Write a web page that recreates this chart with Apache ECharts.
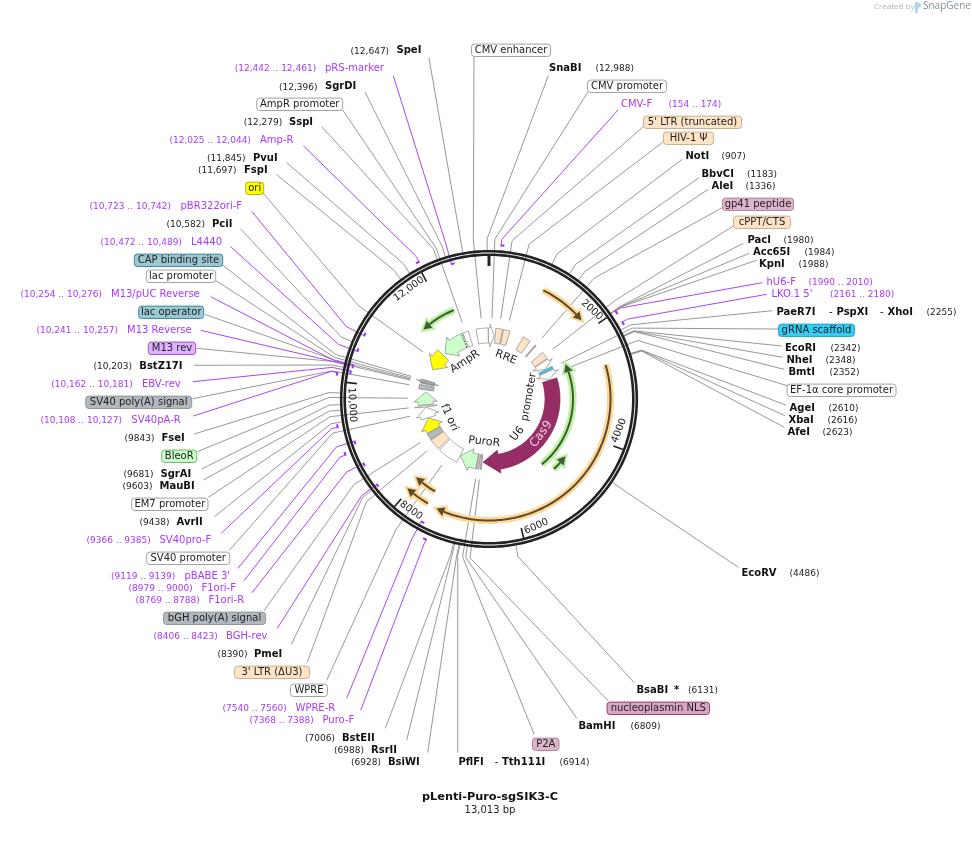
<!DOCTYPE html>
<html lang="en">
<head>
<meta charset="utf-8">
<title>pLenti-Puro-sgSIK3-C</title>
<script src="https://cdn.jsdelivr.net/npm/echarts@6/dist/echarts.min.js"></script>
<style>
  html, body { margin: 0; padding: 0; background: #fff; }
  #main { width: 972px; height: 846px; }
</style>
</head>
<body>
<div id="main"></div>
<script type="text/javascript">
var plasmidName = 'pLenti-Puro-sgSIK3-C';
var plasmidLength = 13013;
var tickValues = [0, 2000, 4000, 6000, 8000, 10000, 12000];
var tickLabels = ['', '2000', '4000', '6000', '8000', '10,000', '12,000'];

// name, cut site
var enzymes = [
  ['SpeI', 12647], ['SgrDI', 12396], ['SspI', 12279], ['PvuI', 11845], ['FspI', 11697],
  ['PciI', 10582], ['BstZ17I', 10203], ['FseI', 9843], ['SgrAI', 9681], ['MauBI', 9603],
  ['AvrII', 9438], ['PmeI', 8390], ['BstEII', 7006], ['RsrII', 6988], ['BsiWI', 6928],
  ['PflFI', 6914], ['BamHI', 6809], ['BsaBI', 6131], ['EcoRV', 4486], ['SnaBI', 12988],
  ['NotI', 907], ['BbvCI', 1183], ['AleI', 1336], ['PacI', 1980], ['Acc65I', 1984],
  ['KpnI', 1988], ['PaeR7I', 2255], ['EcoRI', 2342], ['NheI', 2348], ['BmtI', 2352],
  ['AgeI', 2610], ['XbaI', 2616], ['AfeI', 2623]
];

// name, start, end, direction
var primers = [
  ['pRS-marker', 12442, 12461, 1], ['Amp-R', 12025, 12044, -1], ['pBR322ori-F', 10723, 10742, 1],
  ['L4440', 10472, 10489, 1], ['M13/pUC Reverse', 10254, 10276, -1], ['M13 Reverse', 10241, 10257, -1],
  ['EBV-rev', 10162, 10181, -1], ['SV40pA-R', 10108, 10127, -1], ['SV40pro-F', 9366, 9385, 1],
  ['pBABE 3\'', 9119, 9139, -1], ['F1ori-F', 8979, 9000, 1], ['F1ori-R', 8769, 8788, -1],
  ['BGH-rev', 8406, 8423, -1], ['WPRE-R', 7540, 7560, -1], ['Puro-F', 7368, 7388, 1],
  ['CMV-F', 154, 174, 1], ['hU6-F', 1990, 2010, 1], ['LKO.1 5\'', 2161, 2180, 1]
];

// name, start, end, direction, kind
var features = [
  ['CMV enhancer', 12630, 12990, 0, 'white'],
  ['CMV promoter', 12995, 13183, 1, 'white'],
  ['5\' LTR (truncated)', 200, 400, 0, 'ltr'],
  ['HIV-1 \u03a8', 425, 625, 0, 'ltr'],
  ['RRE', 1045, 1280, 0, 'ltr'],
  ['gp41 peptide', 1460, 1505, 0, 'pink'],
  ['cPPT/CTS', 1770, 1990, 0, 'ltr'],
  ['U6 promoter', 2015, 2255, 1, 'white'],
  ['gRNA scaffold', 2260, 2345, 0, 'cyan'],
  ['EF-1\u03b1 core promoter', 2355, 2600, 1, 'white'],
  ['Cas9', 2630, 6700, 1, 'cas9'],
  ['nucleoplasmin NLS', 6735, 6770, 0, 'nls'],
  ['P2A', 6810, 6890, 0, 'pink'],
  ['PuroR', 6895, 7470, 1, 'green'],
  ['WPRE', 7480, 8100, 0, 'white'],
  ['3\' LTR (\u0394U3)', 8150, 8480, 0, 'ltr'],
  ['bGH poly(A) signal', 8490, 8690, 0, 'gray'],
  ['f1 ori', 8710, 9130, 1, 'yellow'],
  ['SV40 promoter', 9140, 9490, 1, 'white'],
  ['EM7 promoter', 9500, 9560, 1, 'white'],
  ['BleoR', 9570, 9990, 1, 'green'],
  ['SV40 poly(A) signal', 10056, 10195, 0, 'gray'],
  ['M13 rev', 10241, 10257, 0, 'purple'],
  ['lac operator', 10265, 10281, 0, 'teal'],
  ['lac promoter', 10289, 10320, 1, 'white'],
  ['CAP binding site', 10334, 10356, 0, 'teal'],
  ['ori', 10750, 11340, -1, 'yellow'],
  ['AmpR', 11420, 12225, -1, 'green'],
  ['AmpR promoter', 12230, 12400, 0, 'white']
];

// open reading frames: from, to, kind
var orfs = [
  [958, 1793, 'orange'], [2664, 7432, 'orange'], [7600, 8060, 'orange'], [7600, 8040, 'orange'],
  [12236, 11447, 'green'], [5100, 2368, 'green'], [4960, 4587, 'green']
];

// ---------- layout, all in page pixels ----------
var cx = 489, cy = 399;
var ELBOW_R = 160, ENZYME_R = 149, FEATURE_R = 81;
var BAND_IN = 56, BAND_OUT = 71;
var orfRadius = [121.5, 121.5, 107, 121, 95.5, 84, 95.5];

// nameX, y, posX, anchorX, anchorY
var enzymeLayout = {
  SpeI: [396.5, 50.7, 350.6, 429, 58], SgrDI: [325, 86.7, 279, 365, 92], SspI: [289, 122.3, 243.7, 322, 127],
  PvuI: [253, 158.3, 207, 286.7, 162.7], FspI: [244, 170.3, 198, 276.7, 174.7], PciI: [212, 224.3, 166.5, 240.7, 229],
  BstZ17I: [139.3, 366.3, 93.5, 194, 365.3], FseI: [161.5, 438.3, 124.5, 194.3, 434], SgrAI: [160.5, 474.5, 123.5, 201.7, 469],
  MauBI: [159.5, 486.5, 122.5, 203.3, 480], AvrII: [176.5, 522.3, 139.5, 214.3, 516.7], PmeI: [254, 654.3, 217.5, 291.3, 644.3],
  BstEII: [342, 738.3, 305, 385.3, 728.3], RsrII: [371, 750.3, 334, 406.7, 740.3], BsiWI: [388, 762.3, 351, 427.7, 752.7],
  PflFI: [458.5, 762.3, 559.5, 457.7, 752.7], BamHI: [578.5, 726.3, 630.5, 576.7, 718.3], BsaBI: [636.5, 690.3, 688, 634.3, 682.7],
  EcoRV: [741.5, 573.3, 789.5, 738.3, 567.3], SnaBI: [549, 68.3, 595.5, 548.3, 75.7], NotI: [685.5, 156.3, 721.5, 682.3, 159.3],
  BbvCI: [701.5, 174.3, 747, 699, 177.7], AleI: [711.5, 186.3, 745.5, 708.3, 189.3], PacI: [747.5, 240.3, 783.5, 743.3, 243.3],
  Acc65I: [753, 252.3, 804.5, 749.3, 253.3], KpnI: [759, 264.3, 798.5, 757.3, 260], PaeR7I: [776.5, 312.3, 926.5, 772.3, 310.7],
  EcoRI: [785, 348.3, 830.5, 781.7, 346], NheI: [786.5, 360.3, 825.5, 782.7, 357.3], BmtI: [788.5, 372.3, 829.5, 784, 369.3],
  AgeI: [789.5, 408.3, 828.5, 785.7, 405], XbaI: [788.5, 420.3, 827.5, 785, 415.7], AfeI: [787.5, 432.3, 822.5, 784.3, 427.3]
};
// isoschizomers and marks printed on the same row: text, x, bold
var enzymeExtras = {
  PflFI: [['-', 494.7, false], ['Tth111I', 502, true]],
  BsaBI: [['*', 674, true]],
  PaeR7I: [['-', 829, false], ['PspXI', 836.5, true], ['-', 880, false], ['XhoI', 887.5, true]]
};

// nameX, y, posX, anchorX, anchorY, mark radius
var primerLayout = {
  'pRS-marker': [325, 68.3, 234.7, 393.3, 75.7, 140], 'Amp-R': [260, 140.3, 169.5, 303.3, 145.7, 154],
  'pBR322ori-F': [180.5, 206.3, 89.5, 251.7, 211.3, 140], 'L4440': [191, 242.3, 100.5, 230.7, 246.7, 140],
  'M13/pUC Reverse': [111, 294.3, 20.5, 210.7, 296.7, 140], 'M13 Reverse': [127, 330.3, 36.5, 200.7, 330.3, 147],
  'EBV-rev': [142, 384.3, 51.3, 192.7, 381.7, 141], 'SV40pA-R': [131.3, 420.3, 40.5, 193.3, 416, 154],
  'SV40pro-F': [159.5, 540.3, 86.5, 221.3, 533.3, 154], 'pBABE 3\'': [184.5, 576.3, 111, 238, 568.3, 141],
  'F1ori-F': [201.5, 588.3, 128.5, 244, 580.7, 154], 'F1ori-R': [208.5, 600.3, 135.5, 252, 592.7, 141],
  'BGH-rev': [226, 636.3, 153.5, 277.3, 628.3, 141], 'WPRE-R': [295.5, 708.3, 222.5, 346.7, 698.3, 140],
  'Puro-F': [322.5, 720.3, 249.5, 360.7, 710.3, 154], 'CMV-F': [621, 104.3, 668.5, 618.3, 109.7, 154],
  'hU6-F': [766.5, 282.3, 808.5, 762.3, 282.7, 154], 'LKO.1 5\'': [771.5, 294.3, 830, 766.7, 294.3, 154]
};

// x0, x1, y, anchorX, anchorY
var pillLayout = {
  'CMV enhancer': [471.5, 550.5, 50.3, 474, 56.7], 'CMV promoter': [587.5, 666.5, 86.3, 587.7, 92.3],
  '5\' LTR (truncated)': [643.5, 741.5, 122.3, 643.3, 126.7], 'HIV-1 \u03a8': [663.5, 713.5, 138.3, 663.3, 141.7],
  'gp41 peptide': [722.5, 793.5, 204.3, 722.3, 207.7], 'cPPT/CTS': [733.5, 790.5, 222.3, 733.3, 226],
  'gRNA scaffold': [778.5, 854.5, 330.3, 778.3, 329], 'EF-1\u03b1 core promoter': [787, 896, 390.3, 788.3, 386],
  'nucleoplasmin NLS': [607, 709.5, 708.3, 608.3, 701], 'P2A': [532.5, 559, 744.3, 534.3, 734.7],
  'WPRE': [290.5, 327.5, 690.3, 326.7, 680.3], '3\' LTR (\u0394U3)': [234.5, 309.5, 672.3, 307.3, 662.3],
  'bGH poly(A) signal': [163.5, 265.5, 618.3, 264, 610.7], 'SV40 promoter': [146.7, 229.7, 558.3, 229, 550.7],
  'EM7 promoter': [131.7, 208, 504.3, 208.3, 497.3], 'BleoR': [161.7, 196.7, 456.3, 197.3, 451.7],
  'SV40 poly(A) signal': [85.7, 191.7, 402.3, 192.7, 398.7], 'M13 rev': [148.3, 195.7, 348.3, 196.7, 348.3],
  'lac operator': [138.7, 203.7, 312.3, 204.7, 314.3], 'lac promoter': [146.3, 215.7, 276.3, 216, 280.7],
  'CAP binding site': [134.3, 222.7, 260.3, 222.7, 265], 'ori': [245.7, 263.7, 188.3, 263.3, 193.3],
  'AmpR promoter': [256.7, 342.7, 104.3, 342.7, 110]
};

var kindStyle = {
  white: ['#ffffff', '#999999'], ltr: ['#FFE3C6', '#C8A888'], green: ['#CCFFCC', '#66AA66'],
  yellow: ['#FFFF00', '#AAAA00'], gray: ['#B3B8BD', '#8A8F94'], teal: ['#9CC8D4', '#2E8299'],
  purple: ['#DDB3FF', '#A03CD8'], cyan: ['#33CCF5', '#12A5D0'], pink: ['#DDB5CA', '#B07A98'],
  nls: ['#D9A6BF', '#962D64'], cas9: ['#962D64', '#7A2450']
};
var orfStyle = { orange: ['#FFD898', '#5C4A30'], green: ['#BDF0A4', '#3C5C30'] };

// text, angle on the map in bp, radius, rotation in degrees, colour, font size
var innerLabels = [
  ['AmpR', 11825, 44.4, -33, '#222', 11], ['RRE', 802, 45, 22, '#222', 11], ['U6', 5090, 45, -50, '#222', 11],
  ['promoter', 3145, 40, -80, '#222', 10.5], ['Cas9', 4481, 63, -55, '#F7D0E2', 12], ['PuroR', 6737, 43, 6, '#222', 11],
  ['f1 ori', 8852, 43.9, 66, '#222', 11]
];
var tickLabelShift = [0, -224, -253, -231, -231, -329, -290];
var tickLabelRadius = [0, 136, 134, 136, 136, 137, 136];
var tickLabelRotation = [0, 42, -68, -24, 35, 87, -36];

var FONT = '"DejaVu Sans"';

// bp wraps round the origin
function pt(api, r, bp) {
  var a = ((bp % plasmidLength) + plasmidLength) % plasmidLength;
  return api.coord([r, a]);
}

function pxToBp(px, r) {
  return px / (2 * Math.PI * r) * plasmidLength;
}

function arc(api, r, from, to) {
  var n = Math.max(2, Math.ceil(Math.abs(to - from) / 40));
  var pts = [];
  for (var i = 0; i <= n; i++) {
    pts.push(pt(api, r, from + (to - from) * i / n));
  }
  return pts;
}

function featurePoints(api, f) {
  var start = f[1], end = f[2], dir = f[3];
  if (!dir) {
    return arc(api, BAND_OUT, start, end).concat(arc(api, BAND_IN, end, start));
  }
  var mid = (BAND_IN + BAND_OUT) / 2;
  var head = pxToBp(f[4] === 'cas9' ? 16 : 11, mid);
  var tail = dir > 0 ? start : end;
  var tip = dir > 0 ? end : start;
  if (head > (end - start) * 0.75) head = (end - start) * 0.75;
  var neck = tip - dir * head;
  return arc(api, BAND_OUT, tail, neck)
    .concat([pt(api, BAND_OUT + 4, neck), pt(api, mid, tip), pt(api, BAND_IN - 4, neck)])
    .concat(arc(api, BAND_IN, neck, tail));
}

function textEl(text, x, y, opt) {
  opt = opt || {};
  return {
    type: 'text', x: x, y: y, rotation: opt.rotation || 0, silent: true,
    style: {
      text: text,
      font: (opt.bold ? 'bold ' : '') + (opt.size || 10) + 'px ' + FONT,
      fill: opt.color || '#111',
      textAlign: opt.align || 'left',
      textVerticalAlign: 'middle'
    }
  };
}

function comma(n) {
  return n >= 10000 ? String(n).replace(/(\d{3})$/, ',$1') : String(n);
}

// leader lines: inner end at the mark, radial to the elbow, then out to the label
var leaderList = [];
enzymes.forEach(function (e) {
  var l = enzymeLayout[e[0]];
  leaderList.push({ r: ENZYME_R, bp: e[1], ax: l[3], ay: l[4], color: '#8c8c8c' });
});
features.forEach(function (f) {
  var l = pillLayout[f[0]];
  if (l) leaderList.push({ r: FEATURE_R, bp: (f[1] + f[2]) / 2, ax: l[3], ay: l[4], color: '#8c8c8c' });
});
primers.forEach(function (p) {
  var l = primerLayout[p[0]];
  leaderList.push({ r: l[5], bp: (p[1] + p[2]) / 2, ax: l[3], ay: l[4], color: '#A030F5' });
});

function renderLeader(params, api) {
  var d = leaderList[params.dataIndex];
  return {
    type: 'polyline', silent: true,
    shape: { points: [pt(api, d.r, d.bp), pt(api, ELBOW_R, d.bp), [d.ax, d.ay]] },
    style: { fill: null, stroke: d.color, lineWidth: 0.9 }
  };
}

function renderPrimerMark(params, api) {
  var p = primers[params.dataIndex];
  var r = primerLayout[p[0]][5];
  var extra = pxToBp(2.5, r) * p[3];
  return {
    type: 'polyline', silent: true,
    shape: { points: arc(api, r, p[3] > 0 ? p[1] : p[2], (p[3] > 0 ? p[2] : p[1]) + extra) },
    style: { fill: null, stroke: '#A030F5', lineWidth: 2 }
  };
}

function renderRing(params, api) {
  var r = api.value(0);
  return {
    type: 'polyline', silent: true,
    shape: { points: arc(api, r, 0, plasmidLength) },
    style: { fill: null, stroke: '#222222', lineWidth: 2.6 }
  };
}

function renderTick(params, api) {
  var i = params.dataIndex;
  var bp = tickValues[i];
  var children = [{
    type: 'line', silent: true,
    shape: { x1: pt(api, 144, bp)[0], y1: pt(api, 144, bp)[1], x2: pt(api, 133, bp)[0], y2: pt(api, 133, bp)[1] },
    style: { stroke: '#222222', lineWidth: i === 0 ? 3 : 1.6 }
  }];
  if (tickLabels[i]) {
    var p = pt(api, tickLabelRadius[i], bp + tickLabelShift[i]);
    children.push(textEl(tickLabels[i], p[0], p[1], { rotation: -tickLabelRotation[i] * Math.PI / 180, align: 'center', color: '#222' }));
  }
  return { type: 'group', children: children };
}

function renderFeature(params, api) {
  var f = features[params.dataIndex];
  var st = kindStyle[f[4]];
  var children = [{
    type: 'polygon', silent: true,
    shape: { points: featurePoints(api, f) },
    style: { fill: st[0], stroke: f[4] === 'cas9' ? st[1] : '#888888', lineWidth: 0.7 }
  }];
  if (f[0] === 'AmpR') {
    // signal sequence inside the AmpR arrow
    var a = pt(api, BAND_IN, 12175), b = pt(api, BAND_OUT, 12175);
    children.push({
      type: 'line', silent: true,
      shape: { x1: a[0], y1: a[1], x2: b[0], y2: b[1] },
      style: { stroke: '#333333', lineWidth: 1, lineDash: [1.5, 1.5] }
    });
  }
  return { type: 'group', children: children };
}

function renderOrf(params, api) {
  var o = orfs[params.dataIndex];
  var r = orfRadius[params.dataIndex];
  var st = orfStyle[o[2]];
  var dir = o[1] > o[0] ? 1 : -1;
  var neck = o[1] - dir * pxToBp(8, r);
  var line = arc(api, r, o[0], neck);
  var head = [pt(api, r + 4.5, neck), pt(api, r, o[1]), pt(api, r - 4.5, neck)];
  return {
    type: 'group',
    children: [
      { type: 'polyline', silent: true, shape: { points: line }, style: { fill: null, stroke: st[0], lineWidth: 7 } },
      { type: 'polygon', silent: true, shape: { points: head }, style: { fill: st[0], stroke: st[0], lineWidth: 4 } },
      { type: 'polyline', silent: true, shape: { points: line }, style: { fill: null, stroke: st[1], lineWidth: 2 } },
      { type: 'polygon', silent: true, shape: { points: head }, style: { fill: st[1], stroke: null } }
    ]
  };
}

function renderInnerLabel(params, api) {
  var t = innerLabels[params.dataIndex];
  var p = pt(api, t[2], t[1]);
  return textEl(t[0], p[0], p[1], { rotation: -t[3] * Math.PI / 180, align: 'center', color: t[4], size: t[5] });
}

function renderEnzymeLabel(params, api) {
  var e = enzymes[params.dataIndex];
  var l = enzymeLayout[e[0]];
  var children = [
    textEl(e[0], l[0], l[1], { bold: true }),
    textEl('(' + comma(e[1]) + ')', l[2], l[1] + 0.5, { size: 9, color: '#222' })
  ];
  (enzymeExtras[e[0]] || []).forEach(function (x) {
    children.push(textEl(x[0], x[1], l[1], { bold: x[2] }));
  });
  return { type: 'group', children: children };
}

function renderPrimerLabel(params, api) {
  var p = primers[params.dataIndex];
  var l = primerLayout[p[0]];
  return {
    type: 'group',
    children: [
      textEl(p[0], l[0], l[1], { color: '#A838FF' }),
      textEl('(' + comma(p[1]) + ' .. ' + comma(p[2]) + ')', l[2], l[1] + 0.5, { size: 9, color: '#A838FF' })
    ]
  };
}

var pillList = features.filter(function (f) { return pillLayout[f[0]]; });

function renderPill(params, api) {
  var f = pillList[params.dataIndex];
  var l = pillLayout[f[0]];
  var st = kindStyle[f[4]];
  return {
    type: 'group',
    children: [
      {
        type: 'rect', silent: true,
        shape: { x: l[0], y: l[2] - 6.2, width: l[1] - l[0], height: 12.4, r: 3 },
        style: { fill: st[0], stroke: st[1], lineWidth: 0.9 }
      },
      textEl(f[0], (l[0] + l[1]) / 2, l[2] + 0.3, { align: 'center', color: '#222' })
    ]
  };
}

function polarSeries(list, fn) {
  return {
    type: 'custom', coordinateSystem: 'polar', renderItem: fn, animation: false, silent: true,
    data: list.map(function (d) { return [0, 0]; })
  };
}

var chart = echarts.init(document.getElementById('main'));
chart.setOption({
  animation: false,
  backgroundColor: '#fff',
  title: {
    text: plasmidName, subtext: comma(plasmidLength) + ' bp',
    left: 490, top: 791, textAlign: 'center', itemGap: 0, padding: 0,
    textStyle: { fontFamily: FONT, fontSize: 11.3, fontWeight: 'bold', color: '#111', lineHeight: 13 },
    subtextStyle: { fontFamily: FONT, fontSize: 10, color: '#222', lineHeight: 12 }
  },
  polar: { center: [cx, cy], radius: [0, 300] },
  radiusAxis: {
    type: 'value', min: 0, max: 300,
    axisLine: { show: false }, axisTick: { show: false }, axisLabel: { show: false }, splitLine: { show: false }
  },
  angleAxis: {
    type: 'value', min: 0, max: plasmidLength, startAngle: 90, clockwise: true,
    axisLine: { show: false }, axisTick: { show: false }, axisLabel: { show: false }, splitLine: { show: false }
  },
  graphic: [
    { type: 'text', x: 874, y: 3, style: { text: 'Created by', font: '8px "Open Sans"', fill: '#b5b5b5' } },
    { type: 'polygon', shape: { points: [[915, 2], [920, 3], [921.5, 6], [918, 8], [917.5, 13], [915, 13]] }, style: { fill: '#A9D6F0' } },
    { type: 'text', x: 923, y: 1.5, style: { text: 'SnapGene', font: '10px "Open Sans"', fill: '#82929C' } }
  ],
  series: [
    polarSeries(leaderList, renderLeader),
    polarSeries(primers, renderPrimerMark),
    {
      type: 'custom', coordinateSystem: 'polar', renderItem: renderRing, animation: false, silent: true,
      data: [[147.8, 0], [144.3, 0]]
    },
    polarSeries(tickValues, renderTick),
    polarSeries(orfs, renderOrf),
    polarSeries(features, renderFeature),
    polarSeries(innerLabels, renderInnerLabel),
    polarSeries(enzymes, renderEnzymeLabel),
    polarSeries(primers, renderPrimerLabel),
    polarSeries(pillList, renderPill)
  ]
});
</script>
</body>
</html>
